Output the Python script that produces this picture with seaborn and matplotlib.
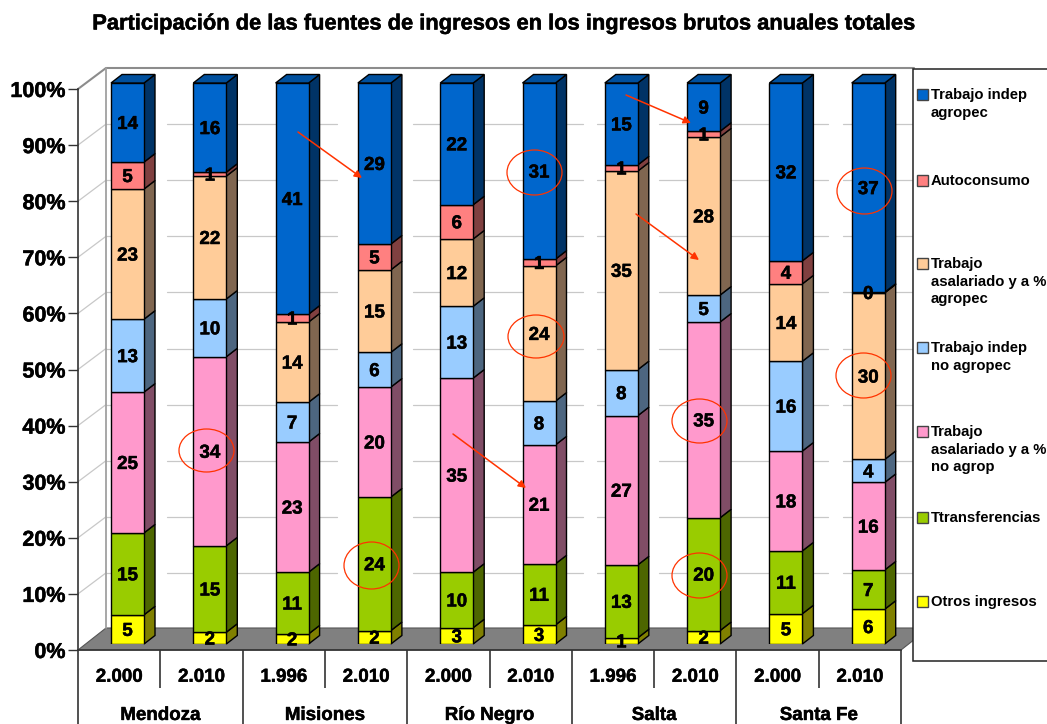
import numpy as np
import pandas as pd
import matplotlib
matplotlib.use("Agg")
import matplotlib.pyplot as plt
import matplotlib.patheffects as pe
from matplotlib.patches import Polygon, Ellipse, Rectangle
import seaborn as sns

# ---- data -------------------------------------------------------------
provinces = ["Mendoza", "Misiones", "Río Negro", "Salta", "Santa Fe"]
years = ["2.000", "2.010", "1.996", "2.010", "2.000", "2.010", "1.996", "2.010", "2.000", "2.010"]
bar_ids = [f"b{i}" for i in range(10)]

otros = [5.2, 2.1, 1.8, 2.4, 2.9, 3.4, 1.1, 2.4, 5.4, 6.2]
transferencias = [14.6, 15.4, 11.0, 23.8, 9.9, 10.9, 13.0, 20.1, 11.2, 7.0]
asal_no_agrop = [25.1, 33.7, 23.2, 19.6, 34.6, 21.2, 26.6, 34.9, 17.8, 15.6]
indep_no_agrop = [13.0, 10.3, 7.1, 6.2, 12.8, 7.8, 8.2, 4.8, 16.0, 4.1]
asal_agropec = [23.2, 21.9, 14.3, 14.7, 12.0, 24.1, 35.4, 28.2, 13.8, 29.7]
autoconsumo = [4.8, 0.7, 1.4, 4.6, 6.1, 1.2, 1.1, 1.0, 4.1, 0.1]
indep_agropec = [14.1, 15.9, 41.2, 28.7, 21.7, 31.4, 14.6, 8.6, 31.7, 37.3]

series_values = [otros, transferencias, asal_no_agrop, indep_no_agrop,
                 asal_agropec, autoconsumo, indep_agropec]
front_colors = ["#FFFF00", "#99CC00", "#FF99CC", "#99CCFF", "#FFCC99", "#FF8080", "#0066CC"]
side_colors = ["#808000", "#4D6600", "#804D66", "#4D6680", "#806650", "#804040", "#003366"]
top_color = "#00509E"

legend_labels = ["Trabajo indep\nagropec", "Autoconsumo", "Trabajo\nasalariado y a %\nagropec",
                 "Trabajo indep\nno agropec", "Trabajo\nasalariado y a %\nno agrop",
                 "Ttransferencias", "Otros ingresos"]
legend_colors = front_colors[::-1]
legend_y = [94, 180, 263, 347, 431, 517, 601]

# ---- layout (pixels) --------------------------------------------------
W, H = 1047, 724
sns.set_theme(style="white")
FONT = ["Liberation Sans", "DejaVu Sans"]
plt.rcParams["font.family"] = FONT
plt.rcParams["font.weight"] = "bold"
plt.rcParams["text.color"] = "black"
plt.rcParams["xtick.color"] = "black"
plt.rcParams["ytick.color"] = "black"
HEAVY = [pe.withStroke(linewidth=0.35, foreground="black")]

fig = plt.figure(figsize=(W / 100, H / 100), dpi=100, facecolor="white")


def px_axes(left, top, right, bottom, z):
    a = fig.add_axes([left / W, 1 - bottom / H, (right - left) / W, (bottom - top) / H], zorder=z)
    a.patch.set_alpha(0)
    return a


# back: wall + floor + gridlines, in pixels
back = px_axes(0, 0, W, H, 0)
back.set_xlim(0, W)
back.set_ylim(H, 0)
back.axis("off")
back.add_patch(Polygon([(78, 650), (901, 650), (929, 628), (106, 628)], closed=True,
                       fc="#808080", ec="#555555", lw=0.8))
segments = [(106, 111), (167, 337), (413, 583), (597, 640), (659, 828), (843, 914)]
for pct in range(10, 100, 10):
    yf = 650 - 5.61 * pct
    back.plot([78, 106], [yf, yf - 21], color="#C8C8C8", lw=0.9)
    for x0, x1 in segments:
        back.plot([x0, x1], [yf - 21, yf - 21], color="#C8C8C8", lw=0.9)
back.plot([78, 106, 914], [89, 68, 68], color="#8C8C8C", lw=1.5)
back.plot([106, 106], [68, 628], color="#A0A0A0", lw=1.3)

# front plane axis: ticks and labels
axf = px_axes(78, 89, 901, 650, 1)
axf.set_xlim(-0.5, 9.5)
axf.set_ylim(0, 100)
axf.set_yticks(range(0, 101, 10), [f"{v}%" for v in range(0, 101, 10)])
axf.tick_params(axis="y", length=7, width=1, color="#333333", pad=2, labelsize=15.5, left=True)
axf.set_xticks(range(10), years)
axf.tick_params(axis="x", length=0, pad=13.5, labelsize=13.5)
sns.despine(ax=axf)
for s in ("left", "bottom"):
    axf.spines[s].set_color("#333333")
    axf.spines[s].set_linewidth(1.2)
tr = axf.get_xaxis_transform()
for i in range(11):
    ylow = -74 / 561 if i % 2 == 0 else -38 / 561
    axf.vlines(i - 0.5, ylow, 0, transform=tr, color="#333333", lw=1.2, clip_on=False)
sec = axf.secondary_xaxis("bottom")
sec.set_xticks([0.5, 2.5, 4.5, 6.5, 8.5], provinces)
sec.tick_params(axis="x", length=0, pad=41, labelsize=13.5)
sec.spines["bottom"].set_visible(False)
for lab in axf.get_xticklabels() + axf.get_yticklabels() + sec.get_xticklabels():
    lab.set_fontweight("bold")
    lab.set_color("black")
    lab.set_path_effects(HEAVY)

# stacked bars
axb = px_axes(127.5 - 41.15, 83, 127.5 + 9.5 * 82.3, 644, 2)
df = pd.DataFrame({"bar": bar_ids})
bottoms = np.zeros(10)
dxc, dyc = 11 / 82.3, 8.5 / 5.61
half = 33 / 82.3 / 2
for vals, fc, sc in zip(series_values, front_colors, side_colors):
    vals = np.array(vals)
    df["value"] = vals
    sns.barplot(data=df, x="bar", y="value", order=bar_ids, color=fc, saturation=1, width=2 * half,
                bottom=bottoms, errorbar=None, edgecolor="black", linewidth=1.0, ax=axb, zorder=2)
    texts = axb.bar_label(axb.containers[-1], fmt="%.0f", label_type="center", fontsize=13.5,
                          fontweight="bold", color="black", zorder=6, padding=-1.4)
    for t in texts:
        t.set_path_effects(HEAVY)
    for i, (b, v) in enumerate(zip(bottoms, vals)):
        xr = i + half
        axb.add_patch(Polygon([(xr, b), (xr + dxc, b + dyc), (xr + dxc, b + v + dyc), (xr, b + v)],
                              closed=True, fc=sc, ec="black", lw=1.0, clip_on=False, zorder=1.5))
    bottoms = bottoms + vals
for i, t in enumerate(bottoms):
    xl, xr = i - half, i + half
    axb.add_patch(Polygon([(xl, t), (xl + dxc, t + dyc), (xr + dxc, t + dyc), (xr, t)],
                          closed=True, fc=top_color, ec="black", lw=1.0, clip_on=False, zorder=1.5))
axb.set_xlim(-0.5, 9.5)
axb.set_ylim(0, 100)
axb.axis("off")

# overlay: callouts and legend, in pixels
top = px_axes(0, 0, W, H, 3)
top.set_xlim(0, W)
top.set_ylim(H, 0)
top.axis("off")
RED = "#FF3300"
ellipses = [(206.5, 450.5, 55, 43), (371.5, 565.5, 55, 47), (534.5, 172.5, 55, 45), (536, 336.5, 56, 43),
            (699.5, 421, 55, 44), (699.5, 575.5, 55, 45), (864.5, 191, 55, 46), (863.5, 375.5, 55, 45)]
for cx, cy, w, h in ellipses:
    top.add_patch(Ellipse((cx, cy), w, h, fc="none", ec=RED, lw=0.9))
arrows = [((298, 132), (362, 178)), ((453, 434), (526, 488)), ((626, 95), (691, 123)), ((636, 214), (699, 260))]
for p0, p1 in arrows:
    top.annotate("", xy=p1, xytext=p0,
                 arrowprops=dict(arrowstyle="-|>", color=RED, lw=1.1, mutation_scale=11,
                                 shrinkA=0, shrinkB=0))
top.add_patch(Rectangle((913, 68.5), 160, 592.5, fc="white", ec="#222222", lw=1.1))
for lab, c, y in zip(legend_labels, legend_colors, legend_y):
    top.add_patch(Rectangle((917, y - 5.5), 11, 11, fc=c, ec="#444444", lw=1.0))
    top.text(931, y - 6, lab, fontsize=10.7, fontweight="bold", color="black", va="top", ha="left",
             linespacing=1.33)

st = fig.suptitle("Participación de las fuentes de ingresos en los ingresos brutos anuales totales",
                  x=504 / W, y=1 - 24 / H, va="center", ha="center", fontsize=15.75, fontweight="bold",
                  color="black")
st.set_path_effects(HEAVY)
fig.savefig("out.png", dpi=100, facecolor="white")
